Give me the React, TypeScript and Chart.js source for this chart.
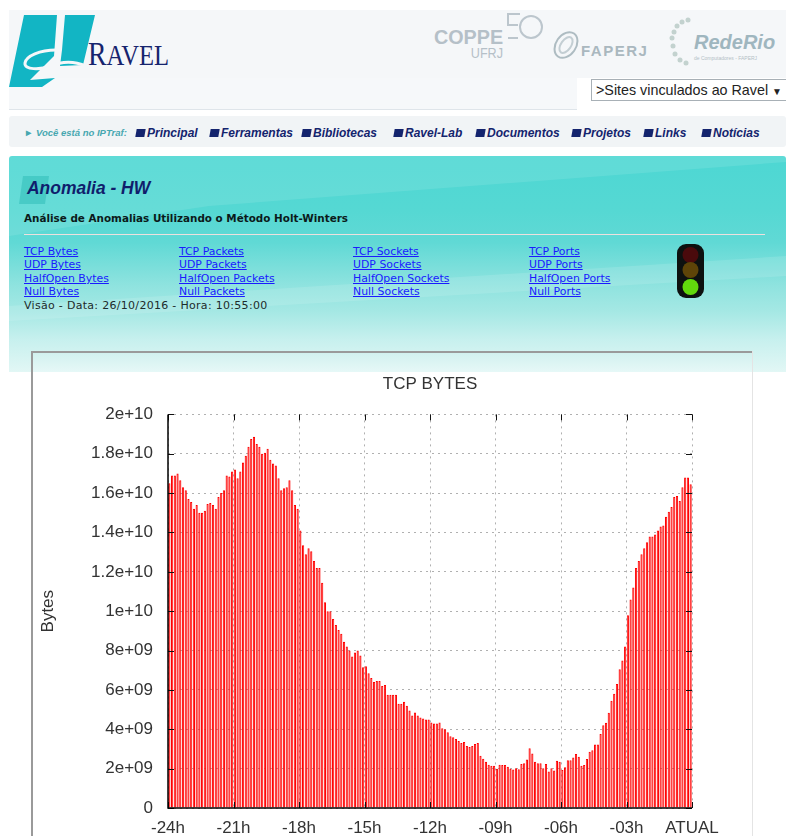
import React, { useEffect, useRef } from "react";
import { Chart, registerables } from "chart.js";

Chart.register(...registerables);

const chartTitle = "TCP BYTES";
const yAxisTitle = "Bytes";
const xTickLabels = ["-24h", "-21h", "-18h", "-15h", "-12h", "-09h", "-06h", "-03h", "ATUAL"];
const yTickLabels = ["0", "2e+09", "4e+09", "6e+09", "8e+09", "1e+10", "1.2e+10", "1.4e+10", "1.6e+10", "1.8e+10", "2e+10"];
const barsPerTick = 24;
const valueStep = 2e9;
const valueMax = 2e10;

// Traffic volume in units of 1e9 bytes, one bar per 7.5 minutes
const hours24to21 = [16.5, 16.9, 16.9, 17.0, 16.65, 16.3, 16.15, 15.7, 15.55, 15.2, 15.4, 15.0, 15.0, 15.1, 15.45, 15.5, 15.4, 15.2, 15.8, 16.0, 16.15, 16.9, 16.85, 17.1];
const hours21to18 = [17.2, 16.75, 17.1, 17.55, 17.9, 18.35, 18.75, 18.87, 18.5, 18.35, 18.0, 18.05, 18.25, 17.7, 17.5, 17.4, 16.75, 16.15, 16.25, 16.3, 16.65, 16.15, 15.4, 15.2];
const hours18to15 = [14.1, 13.35, 12.9, 13.2, 13.05, 12.55, 12.2, 12.2, 11.45, 10.45, 10.0, 10.0, 9.6, 9.3, 9.05, 8.85, 8.45, 8.2, 8.0, 7.7, 7.9, 8.0, 7.75, 7.15];
const hours15to12 = [7.2, 6.85, 6.6, 6.4, 6.45, 6.45, 6.2, 6.25, 5.75, 5.75, 5.75, 5.75, 5.3, 5.3, 5.4, 5.2, 4.95, 4.7, 4.85, 4.7, 4.6, 4.55, 4.5, 4.5];
const hours12to09 = [4.35, 4.3, 4.3, 4.35, 4.05, 4.0, 3.85, 3.65, 3.6, 3.5, 3.4, 3.3, 3.35, 3.15, 3.1, 3.15, 3.25, 3.3, 2.65, 2.5, 2.35, 2.2, 2.15, 2.15];
const hours09to06 = [2.0, 2.2, 2.18, 2.18, 2.1, 2.0, 1.95, 2.02, 1.97, 2.23, 2.27, 2.47, 3.03, 2.77, 2.35, 2.27, 2.27, 2.02, 2.23, 1.85, 2.02, 1.9, 2.4, 2.35];
const hours06to03 = [1.93, 2.07, 2.43, 2.43, 2.57, 2.74, 2.6, 2.15, 2.18, 2.49, 2.86, 2.94, 3.23, 3.23, 3.76, 4.2, 4.33, 4.84, 5.45, 5.8, 6.3, 7.05, 7.5, 8.2];
const hours03to00 = [9.8, 10.6, 11.2, 12.2, 12.55, 12.9, 13.2, 13.5, 13.8, 13.8, 13.9, 14.1, 14.3, 14.35, 14.8, 15.05, 15.3, 15.8, 15.85, 15.6, 16.3, 16.8, 16.8, 16.45];

const values = [...hours24to21, ...hours21to18, ...hours18to15, ...hours15to12, ...hours12to09, ...hours09to06, ...hours06to03, ...hours03to00];

const navItems = [
  ["Principal", 136], ["Ferramentas", 210], ["Bibliotecas", 302], ["Ravel-Lab", 394],
  ["Documentos", 476], ["Projetos", 572], ["Links", 644], ["Notícias", 702],
] as [string, number][];

const linkColumns = [
  [24, ["TCP Bytes", "UDP Bytes", "HalfOpen Bytes", "Null Bytes"]],
  [179, ["TCP Packets", "UDP Packets", "HalfOpen Packets", "Null Packets"]],
  [353, ["TCP Sockets", "UDP Sockets", "HalfOpen Sockets", "Null Sockets"]],
  [529, ["TCP Ports", "UDP Ports", "HalfOpen Ports", "Null Ports"]],
] as [number, string[]][];
const linkRows = [245, 258, 272, 285];

const abs = (left: number, top: number, extra: React.CSSProperties = {}): React.CSSProperties => ({
  position: "absolute", left, top, whiteSpace: "nowrap", ...extra,
});

function Header() {
  const sans = "'Liberation Sans', Arial, sans-serif";
  const dv = "'DejaVu Sans', sans-serif";
  return (
    <>
      <div style={abs(9, 10, { width: 777, height: 68, background: "#f5f7f9" })} />
      <div style={abs(9, 78, { width: 568, height: 31, background: "#f6f8fa", borderBottom: "1px solid #dfe5ea" })} />
      <svg style={abs(0, 0)} width={786} height={110}>
        <path d="M24 15 L57 15 L54 56 L30 80 L55 78 L42 87 L9 87 Z" fill="#12b5c4" />
        <path d="M65 15 L95 15 L83 65 L60 66 L62 50 Z" fill="#12b5c4" />
        <path d="M56 50 C40 50 26 56 25 63 C24 70 40 70 50 66 C60 62 72 60 86 66" fill="none" stroke="#f5f7f9" strokeWidth={3} />
      </svg>
      <div style={abs(88, 35, { fontFamily: "'Liberation Serif', serif", fontSize: 34, color: "#16246e", transform: "scaleX(0.82)", transformOrigin: "left" })}>
        R<span style={{ fontSize: 30 }}>AVEL</span>
      </div>
      <div style={abs(434, 25, { fontFamily: sans, fontWeight: 700, fontSize: 21, color: "#b5c0c8", transform: "scaleX(0.94)", transformOrigin: "left" })}>COPPE</div>
      <div style={abs(469, 45, { fontFamily: sans, fontSize: 14, color: "#b5c0c8", transform: "scaleX(0.9)" })}>UFRJ</div>
      <svg style={abs(500, 10)} width={48} height={36}>
        <circle cx={31} cy={17} r={11} fill="none" stroke="#bcc6cd" strokeWidth={2} />
        <path d="M20 4 H8 V15 H18 M8 28 H18" fill="none" stroke="#bcc6cd" strokeWidth={2} />
      </svg>
      <svg style={abs(548, 28)} width={36} height={34}>
        <ellipse cx={18} cy={17} rx={10} ry={14} transform="rotate(35 18 17)" fill="none" stroke="#aebcc2" strokeWidth={2} />
        <ellipse cx={18} cy={17} rx={5} ry={9} transform="rotate(35 18 17)" fill="none" stroke="#c3ced3" strokeWidth={2} />
      </svg>
      <div style={abs(581, 42, { fontFamily: sans, fontWeight: 700, fontSize: 15, letterSpacing: 1.5, color: "#aab8bf" })}>FAPERJ</div>
      <svg style={abs(668, 16)} width={30} height={56}>
        {[[20, 4], [14, 6], [9, 10], [6, 16], [4, 22], [5, 30], [7, 38], [12, 44], [18, 47]].map(([x, y], i) => (
          <circle key={i} cx={x} cy={y} r={2.5} fill="#c3d2cf" />
        ))}
      </svg>
      <div style={abs(694, 31, { fontFamily: sans, fontWeight: 700, fontStyle: "italic", fontSize: 20, color: "#9fb6bf" })}>RedeRio</div>
      <div style={abs(694, 55, { fontFamily: sans, fontSize: 5, color: "#b3c0c6" })}>de Computadores - FAPERJ</div>
      <div style={abs(591, 79, { width: 195, height: 20, border: "1px solid #a8b0b6", background: "#fff", fontFamily: sans, fontSize: 14.3, lineHeight: "20px", paddingLeft: 4, boxSizing: "content-box", color: "#222", overflow: "hidden" })}>
        &gt;Sites vinculados ao Ravel <span style={{ fontSize: 10 }}>▼</span>
      </div>

      <div style={abs(9, 116, { width: 777, height: 31, background: "#f1f4f6", borderRadius: 3 })} />
      <div style={abs(24, 127, { fontFamily: sans, fontStyle: "italic", fontWeight: 700, fontSize: 9.5, color: "#47a7b0" })}>► Você está no IPTraf:</div>
      {navItems.map(([t, x]) => (
        <div key={t} style={abs(x, 126, { fontFamily: sans, fontStyle: "italic", fontWeight: 700, fontSize: 12, color: "#14246e" })}>
          <span style={{ display: "inline-block", width: 9, height: 8, background: "#14246e", marginRight: 2, transform: "skewX(-10deg)" }} />{t}
        </div>
      ))}

      <div style={abs(9, 156, { width: 777, height: 216, borderRadius: "3px 3px 0 0", background: "linear-gradient(180deg,#4dd7d3 0%,#55d8d3 25%,#60d9d5 40%,#8fe3df 60%,#a5e8e4 72%,#c7f0ee 85%,#e2f7f5 100%)" })} />
      <svg style={abs(9, 156)} width={777} height={216}>
        <path d="M0 0 H777 V6 L200 50 L0 80 Z" fill="#ffffff" opacity={0.1} />
        <path d="M0 150 L777 100 V120 L0 165 Z" fill="#ffffff" opacity={0.12} />
        <path d="M14 20 L40 20 L36 48 L10 48 Z" fill="#32bdb8" opacity={0.55} />
      </svg>
      <div style={abs(27, 178, { fontFamily: sans, fontStyle: "italic", fontWeight: 700, fontSize: 18, color: "#101e6c", transform: "scaleX(0.97)", transformOrigin: "left" })}>Anomalia - HW</div>
      <div style={abs(24, 212, { fontFamily: dv, fontWeight: 700, fontSize: 10.4, color: "#0b1a1a" })}>Análise de Anomalias Utilizando o Método Holt-Winters</div>
      <div style={abs(24, 234, { width: 741, height: 1, background: "#eee0de" })} />
      {linkColumns.map(([x, links]) =>
        links.map((l, i) => (
          <a key={l} href="#" style={abs(x, linkRows[i], { fontFamily: dv, fontSize: 10.9, color: "#1a1aff" })}>{l}</a>
        ))
      )}
      <div style={abs(24, 299, { fontFamily: dv, fontSize: 11, letterSpacing: 0.3, color: "#1d2b2b" })}>Visão - Data: 26/10/2016 - Hora: 10:55:00</div>
      <svg style={abs(677, 244)} width={28} height={54}>
        <rect x={0} y={0} width={27} height={54} rx={9} fill="#0d1110" />
        <circle cx={13.5} cy={11} r={8} fill="#4a0a0c" />
        <circle cx={13.5} cy={26} r={8} fill="#5e4408" />
        <circle cx={13.5} cy={43} r={8} fill="#62d80c" />
      </svg>

      <div style={abs(0, 372, { width: 786, height: 464, background: "#fff" })} />
      <div style={abs(31, 351, { width: 721, height: 2, background: "#9a9a9a" })} />
      <div style={abs(31, 351, { width: 2, height: 485, background: "#9a9a9a" })} />
      <div style={abs(33, 353, { width: 719, height: 19, background: "linear-gradient(180deg,#d2f1ef,#e6f8f7)" })} />
      <div style={abs(752, 351, { width: 1, height: 485, background: "#e4e4e4" })} />
    </>
  );
}

export default function App() {
  const ref = useRef<HTMLCanvasElement | null>(null);
  useEffect(() => {
    document.body.style.margin = "0";
    document.body.style.overflow = "hidden";
    const font = "'Liberation Sans', Arial, sans-serif";
    const innerTicks = {
      id: "innerTicks",
      afterDatasetsDraw(c: any) {
        const { ctx, chartArea: a, scales } = c;
        ctx.save();
        ctx.strokeStyle = "#111";
        ctx.lineWidth = 1;
        ctx.beginPath();
        scales.y.ticks.forEach((t: any) => {
          const y = Math.round(scales.y.getPixelForValue(t.value)) + 0.5;
          ctx.moveTo(a.left, y); ctx.lineTo(a.left + 6, y);
          ctx.moveTo(a.right, y); ctx.lineTo(a.right - 6, y);
        });
        scales.x.ticks.forEach((t: any) => {
          const x = Math.round(scales.x.getPixelForValue(t.value)) + 0.5;
          ctx.moveTo(x, a.bottom); ctx.lineTo(x, a.bottom - 6);
          ctx.moveTo(x, a.top); ctx.lineTo(x, a.top + 6);
        });
        ctx.stroke();
        ctx.strokeStyle = "#000";
        ctx.lineWidth = 1.5;
        ctx.beginPath();
        ctx.moveTo(a.left, a.top); ctx.lineTo(a.left, a.bottom); ctx.lineTo(a.right, a.bottom);
        ctx.stroke();
        ctx.restore();
      },
    };
    const chart = new Chart(ref.current as HTMLCanvasElement, {
      type: "bar",
      data: {
        datasets: [{
          data: values.map((v, i) => ({ x: i + 0.5, y: v * 1e9 })),
          backgroundColor: "#ff8a8a",
          borderColor: "#ff0000",
          borderWidth: 1,
          barPercentage: 0.8,
          categoryPercentage: 1,
        }],
      },
      options: {
        animation: false,
        responsive: false,
        layout: { padding: { top: 1, right: 94, left: 0, bottom: 0 } },
        plugins: {
          legend: { display: false },
          tooltip: { enabled: false },
          title: {
            display: true, text: chartTitle, color: "#333", fullSize: false,
            font: { family: font, size: 17, weight: "normal" }, padding: { top: 1, bottom: 20 },
          },
        },
        scales: {
          x: {
            type: "linear", offset: false, min: 0, max: xTickLabels.length * barsPerTick - barsPerTick,
            afterFit: (s: any) => { s.height = 28; },
            afterBuildTicks: (s: any) => { s.ticks = xTickLabels.map((_, i) => ({ value: i * barsPerTick })); },
            grid: { offset: false, color: "#b0b0b0", lineWidth: 1, drawTicks: false },
            border: { dash: [2, 4], display: false },
            ticks: {
              color: "#333", font: { family: font, size: 17 }, padding: 10, maxRotation: 0, autoSkip: false,
              callback: (v: any) => xTickLabels[Math.round(Number(v) / barsPerTick)],
            },
          },
          y: {
            type: "linear", min: 0, max: valueMax,
            afterFit: (s: any) => { s.width = 168; },
            afterBuildTicks: (s: any) => { s.ticks = yTickLabels.map((_, i) => ({ value: i * valueStep })); },
            title: { display: true, text: yAxisTitle, color: "#333", font: { family: font, size: 17 }, padding: { top: 38, bottom: 0 } },
            grid: { color: "#b0b0b0", lineWidth: 1, drawTicks: false },
            border: { dash: [2, 4], display: false },
            ticks: {
              color: "#333", font: { family: font, size: 17 }, padding: 15, autoSkip: false,
              callback: (v: any) => yTickLabels[Math.round(Number(v) / valueStep)],
            },
          },
        },
      },
      plugins: [innerTicks],
    } as any);
    return () => chart.destroy();
  }, []);
  return (
    <div style={{ position: "relative", width: 786, height: 836, overflow: "hidden", background: "#fff" }}>
      <Header />
      <canvas ref={ref} width={786} height={464} style={{ position: "absolute", left: 0, top: 372, width: 786, height: 464, display: "block" }} />
    </div>
  );
}
